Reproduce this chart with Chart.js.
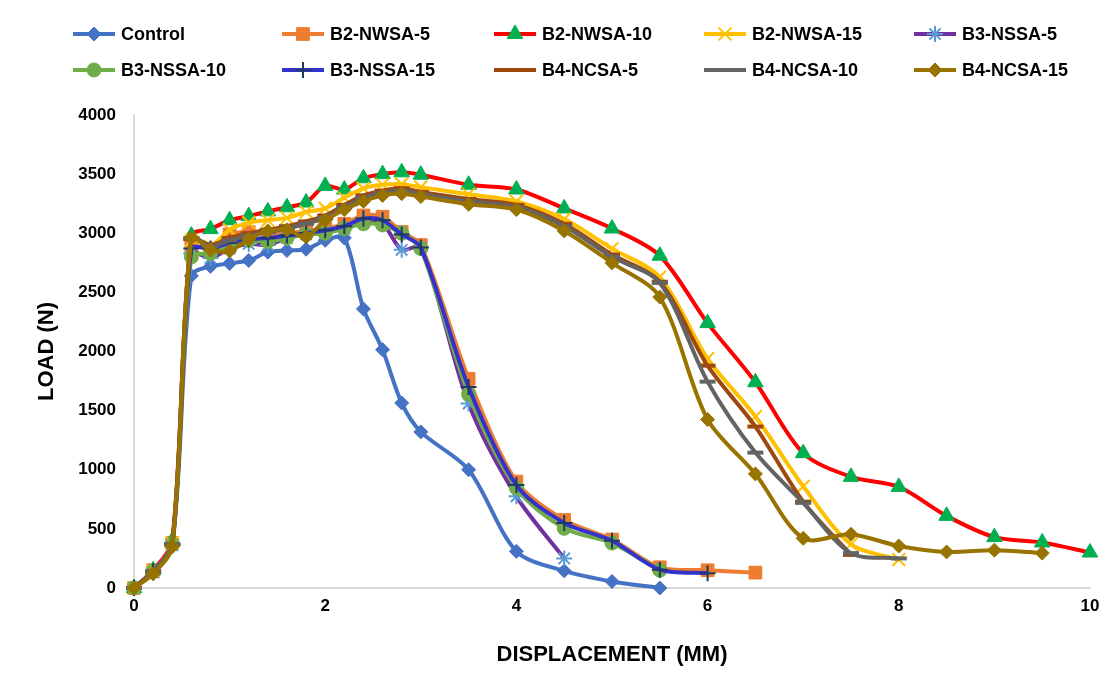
<!DOCTYPE html>
<html>
<head>
<meta charset="utf-8">
<title>Load vs displacement</title>
<script src="https://cdn.jsdelivr.net/npm/chart.js@4.4.1/dist/chart.umd.min.js"></script>
<style>
  body { margin: 0; background: #fff; }
  #wrap { width: 1120px; height: 692px; }
</style>
</head>
<body>
<div id="wrap"><canvas id="loadChart" width="1120" height="692"></canvas></div>
<script>
// displacement steps (mm) shared by every specimen; each series uses the first n of them
const displacement = [0, 0.2, 0.4, 0.6, 0.8, 1.0, 1.2, 1.4, 1.6, 1.8, 2.0, 2.2, 2.4, 2.6, 2.8, 3.0,
                      3.5, 4.0, 4.5, 5.0, 5.5, 6.0, 6.5, 7.0, 7.5, 8.0, 8.5, 9.0, 9.5, 10];

// load readings (N)
const control   = [0, 130, 350, 2640, 2720, 2745, 2770, 2840, 2855, 2865, 2940, 2960, 2360, 2015, 1565, 1320, 1000, 310, 145, 55, 0];
const b2nwsa5   = [0, 150, 380, 2880, 2870, 2990, 3010, 2990, 3000, 3020, 3040, 3080, 3150, 3140, 3010, 2900, 1770, 900, 575, 410, 175, 150, 130];
const b2nwsa10  = [0, 150, 400, 2980, 3035, 3110, 3145, 3185, 3220, 3260, 3400, 3370, 3465, 3500, 3515, 3495, 3410, 3370, 3210, 3040, 2810, 2240, 1740, 1140, 940, 855, 610, 430, 385, 300];
const b2nwsa15  = [0, 140, 380, 2940, 2890, 3030, 3090, 3110, 3130, 3180, 3210, 3300, 3380, 3410, 3415, 3390, 3330, 3270, 3120, 2870, 2630, 1940, 1450, 860, 370, 240];
const b3nssa5   = [0, 130, 360, 2830, 2790, 2870, 2910, 2900, 2960, 2990, 3010, 3040, 3090, 3080, 2860, 2880, 1560, 775, 250];
const b3nssa10  = [0, 140, 370, 2800, 2830, 2900, 2940, 2930, 2960, 2990, 3000, 3040, 3080, 3070, 3000, 2870, 1640, 845, 505, 380, 150];
const b3nssa15  = [0, 140, 370, 2870, 2870, 2920, 2950, 2960, 2980, 3000, 3025, 3060, 3125, 3110, 2990, 2880, 1700, 870, 550, 400, 155, 125];
const b4ncsa5   = [0, 140, 370, 2950, 2900, 2960, 3000, 3030, 3060, 3100, 3150, 3240, 3320, 3360, 3380, 3350, 3290, 3240, 3080, 2820, 2590, 1880, 1365, 730, 280];
const b4ncsa10  = [0, 140, 370, 2960, 2890, 2940, 2980, 3010, 3040, 3080, 3130, 3220, 3300, 3340, 3360, 3330, 3270, 3220, 3060, 2800, 2580, 1745, 1145, 720, 295, 250];
const b4ncsa15  = [0, 120, 350, 2960, 2860, 2850, 2950, 3020, 3030, 2970, 3110, 3200, 3270, 3320, 3335, 3310, 3245, 3200, 3020, 2750, 2460, 1425, 965, 420, 455, 355, 305, 320, 295];

const seriesNames = ['Control', 'B2-NWSA-5', 'B2-NWSA-10', 'B2-NWSA-15', 'B3-NSSA-5',
                     'B3-NSSA-10', 'B3-NSSA-15', 'B4-NCSA-5', 'B4-NCSA-10', 'B4-NCSA-15'];
const seriesLoads = [control, b2nwsa5, b2nwsa10, b2nwsa15, b3nssa5,
                     b3nssa10, b3nssa15, b4ncsa5, b4ncsa10, b4ncsa15];

const xTicks = [0, 2, 4, 6, 8, 10];
const yTicks = [0, 500, 1000, 1500, 2000, 2500, 3000, 3500, 4000];

// line colour, marker shape / colour / size per series
const styles = [
  { line: '#4472C4', shape: 'rectRot',  fill: '#4472C4', edge: '#4472C4', r: 7, bw: 1 },
  { line: '#ED7D31', shape: 'rect',     fill: '#ED7D31', edge: '#ED7D31', r: 9, bw: 1 },
  { line: '#FF0000', shape: 'triangle', fill: '#00B050', edge: '#00B050', r: 9, bw: 1 },
  { line: '#FFC000', shape: 'crossRot', fill: '#FFC000', edge: '#FFC000', r: 9, bw: 2 },
  { line: '#7030A0', shape: 'star',     fill: '#5B9BD5', edge: '#5B9BD5', r: 8, bw: 2 },
  { line: '#70AD47', shape: 'circle',   fill: '#70AD47', edge: '#70AD47', r: 7, bw: 1 },
  { line: '#3333CC', shape: 'cross',    fill: '#203864', edge: '#203864', r: 8, bw: 2 },
  { line: '#9E480E', shape: 'line',     fill: '#9E480E', edge: '#9E480E', r: 8, bw: 4 },
  { line: '#636363', shape: 'line',     fill: '#636363', edge: '#636363', r: 8, bw: 4 },
  { line: '#997300', shape: 'rectRot',  fill: '#997300', edge: '#997300', r: 7, bw: 1 }
];

const FONT = '"Liberation Sans", Arial, sans-serif';

const datasets = seriesNames.map((name, i) => ({
  label: name,
  data: seriesLoads[i].map((v, k) => ({ x: displacement[k], y: v })),
  borderColor: styles[i].line,
  backgroundColor: styles[i].line,
  borderWidth: 4,
  tension: 0.3,
  pointStyle: styles[i].shape,
  pointRadius: styles[i].r,
  pointBackgroundColor: styles[i].fill,
  pointBorderColor: styles[i].edge,
  pointBorderWidth: styles[i].bw,
  clip: false,
  order: seriesNames.length - i   // later series drawn on top
}));

// two-row legend laid out in fixed columns
const legendCols = [73, 282, 494, 704, 914];
const legendRows = [34, 70];

const gridLegend = {
  id: 'gridLegend',
  afterDraw(chart) {
    const ctx = chart.ctx;
    ctx.save();
    chart.data.datasets.forEach((ds, i) => {
      const x0 = legendCols[i % 5];
      const y = legendRows[Math.floor(i / 5)];
      ctx.strokeStyle = ds.borderColor;
      ctx.lineWidth = 4;
      ctx.beginPath();
      ctx.moveTo(x0, y);
      ctx.lineTo(x0 + 42, y);
      ctx.stroke();

      ctx.fillStyle = ds.pointBackgroundColor;
      ctx.strokeStyle = ds.pointBorderColor;
      ctx.lineWidth = ds.pointBorderWidth;
      Chart.helpers.drawPoint(ctx, {
        pointStyle: ds.pointStyle,
        radius: ds.pointRadius,
        rotation: 0,
        borderWidth: ds.pointBorderWidth
      }, x0 + 21, y);

      ctx.fillStyle = '#000';
      ctx.font = 'bold 18px ' + FONT;
      ctx.textBaseline = 'middle';
      ctx.textAlign = 'left';
      ctx.fillText(ds.label, x0 + 48, y + 1);
    });
    ctx.restore();
  }
};

const tickFont = { family: FONT, size: 17, weight: 'bold' };
const titleFont = { family: FONT, size: 22, weight: 'bold' };

new Chart(document.getElementById('loadChart'), {
  type: 'line',
  data: { datasets },
  options: {
    responsive: false,
    animation: false,
    devicePixelRatio: 1,
    layout: { padding: { top: 115, right: 30, bottom: 20, left: 30 } },
    plugins: {
      legend: { display: false },
      tooltip: { enabled: false }
    },
    scales: {
      x: {
        type: 'linear',
        min: 0,
        max: 10,
        afterFit: s => { s.height = 84; },
        afterBuildTicks: s => { s.ticks = xTicks.map(v => ({ value: v })); },
        grid: { display: false, drawTicks: false },
        border: { display: true, color: '#D9D9D9', width: 2 },
        ticks: { padding: 8, color: '#000', font: tickFont, callback: v => String(v) },
        title: { display: true, text: 'DISPLACEMENT (MM)', color: '#000', font: titleFont }
      },
      y: {
        min: 0,
        max: 4000,
        afterFit: s => { s.width = 104; },
        afterBuildTicks: s => { s.ticks = yTicks.map(v => ({ value: v })); },
        grid: { display: false, drawTicks: false },
        border: { display: true, color: '#D9D9D9', width: 2 },
        ticks: { padding: 18, color: '#000', font: tickFont, callback: v => String(v) },
        title: { display: true, text: 'LOAD (N)', color: '#000', font: titleFont }
      }
    }
  },
  plugins: [gridLegend]
});
</script>
</body>
</html>
